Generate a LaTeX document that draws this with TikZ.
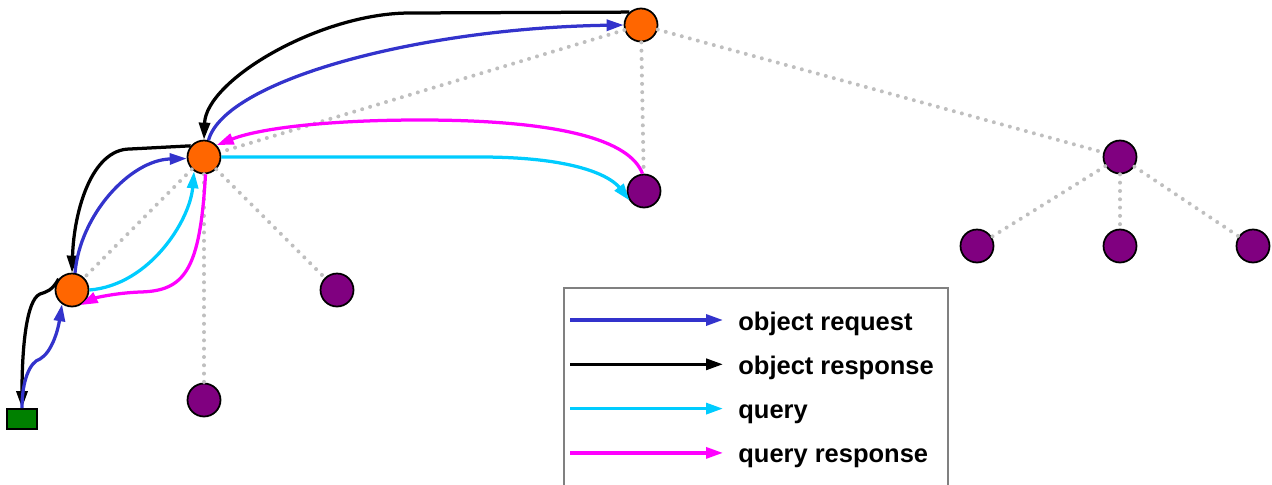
\documentclass[tikz,border=0pt]{standalone}
\usepackage{fontspec}
\setmainfont{Liberation Sans}
\usetikzlibrary{arrows.meta}
\definecolor{srvor}{RGB}{255,102,0}
\definecolor{leafpu}{RGB}{128,0,128}
\definecolor{cligr}{RGB}{0,128,0}
\definecolor{treegr}{RGB}{191,191,191}
\definecolor{keygr}{RGB}{128,128,128}
\definecolor{reqbl}{RGB}{51,51,204}
\definecolor{qrycy}{RGB}{0,204,255}
\definecolor{qrsmg}{RGB}{255,0,255}

\begin{document}
\begin{tikzpicture}[x=0.2mm,y=-0.2mm,
 srv/.style={circle,draw,line width=0.35mm,fill=srvor,minimum size=6.6mm,inner sep=0},
 leaf/.style={circle,draw,line width=0.35mm,fill=leafpu,minimum size=6.6mm,inner sep=0},
 cli/.style={rectangle,draw,line width=0.35mm,fill=cligr,minimum width=6mm,minimum height=4mm,inner sep=0},
 tree/.style={treegr,line width=0.8mm,line cap=round,dash pattern=on 0pt off 1.66mm},
 msg/.style={line width=0.65mm,-{Triangle[length=3.4mm,width=2.2mm]}},
 req/.style={msg,reqbl},
 res/.style={msg,black},
 qry/.style={msg,qrycy},
 qrs/.style={msg,qrsmg},
 lbl/.style={font=\fontsize{14.5}{17}\selectfont\bfseries,inner sep=0}]
\useasboundingbox (0,0) rectangle (1272,484);
\node[srv] (root) at (641,25) {};
\node[srv] (r1) at (204,157) {};
\node[srv] (r2) at (72,290) {};
\node[cli] (usr) at (22,419) {};
\node[leaf] (p1) at (644,191) {};
\node[leaf] (p2) at (337,290) {};
\node[leaf] (p3) at (204,400) {};
\node[leaf] (p4) at (1120,157) {};
\node[leaf] (p5) at (977,246) {};
\node[leaf] (p6) at (1120,246) {};
\node[leaf] (p7) at (1253,246) {};
\draw[tree] (root) -- (r1);
\draw[tree] (root) -- (p1);
\draw[tree] (root) -- (p4);
\draw[tree] (r1) -- (r2);
\draw[tree] (r1) -- (p2);
\draw[tree] (r1) -- (p3);
\draw[tree] (p4) -- (p5);
\draw[tree] (p4) -- (p6);
\draw[tree] (p4) -- (p7);
\draw[res] (root.132) -- (410,13) .. controls (320,13) and (206,80) .. (r1.north);
\draw[req] (r1.75) .. controls (225,80) and (420,28) .. (root.west);
\draw[res] (r1.140) -- (130,149) .. controls (92,149) and (74,210) .. (r2.north);
\draw[req] (r2.80) .. controls (80,215) and (130,160) .. (r1.185);
\draw[qry] (r2.east) .. controls (150,285) and (190,220) .. (r1.235);
\draw[qrs] (r1.275) .. controls (200,270) and (185,291) .. (140,292) .. controls (115,293) and (95,298) .. (r2.300);
\draw[res] (r2.140) .. controls (52,291) and (46,292) .. (40,294) .. controls (26,300) and (22,350) .. (usr.north);
\draw[req] (usr.north) .. controls (22,380) and (30,362) .. (40,359) .. controls (52,352) and (58,330) .. (r2.235);
\draw[qry] (r1.east) -- (480,157) .. controls (580,157) and (612,178) .. (p1.213);
\draw[qrs] (p1.95) .. controls (630,140) and (560,120) .. (420,120) .. controls (330,120) and (260,128) .. (r1.43);
\node[draw=keygr,line width=0.4mm,minimum width=76.8mm,minimum height=44mm,anchor=north west,inner sep=0] (key) at (563,287) {};
\foreach \st/\txt [count=\i] in {req/object request,res/object response,qry/query,qrs/query response}{
 \coordinate (s\i) at (570,275.7+44.3*\i);
 \coordinate (e\i) at (723,275.7+44.3*\i);
 \draw[\st] (s\i) -- (e\i);
 \node[lbl,anchor=base west] (l\i) at (738,285.7+44.3*\i) {\txt};
}
\end{tikzpicture}
\end{document}
